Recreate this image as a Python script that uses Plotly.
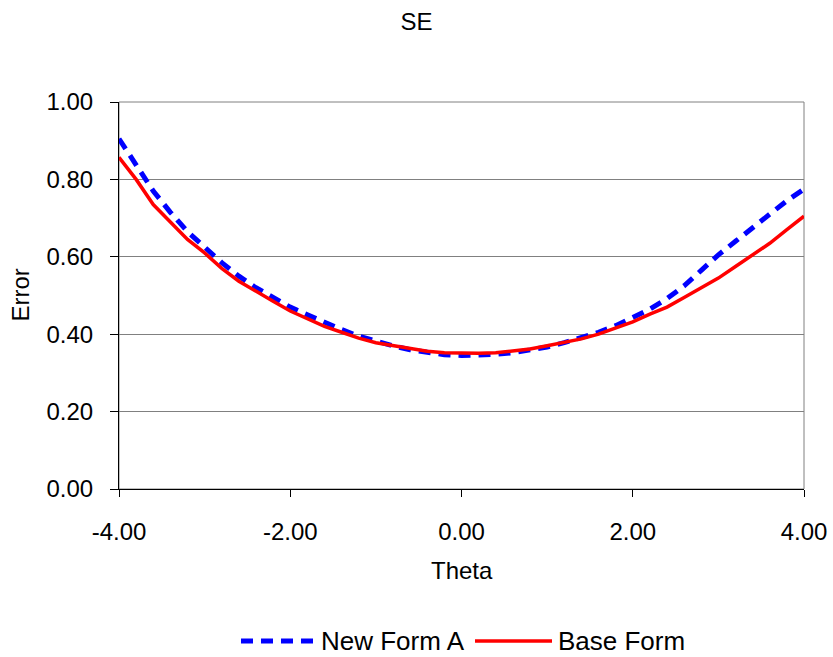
import plotly.graph_objects as go

# Theta grid and standard error curves for the two forms
theta = [-4.0, -3.8, -3.6, -3.4, -3.2, -3.0, -2.8, -2.6, -2.4, -2.2, -2.0,
         -1.8, -1.6, -1.4, -1.2, -1.0, -0.8, -0.6, -0.4, -0.2, 0.0,
         0.2, 0.4, 0.6, 0.8, 1.0, 1.2, 1.4, 1.6, 1.8, 2.0,
         2.2, 2.4, 2.6, 2.8, 3.0, 3.2, 3.4, 3.6, 3.8, 4.0]

new_form_a = [0.905, 0.840, 0.770, 0.715, 0.665, 0.625, 0.585, 0.550, 0.520, 0.495, 0.470,
              0.450, 0.430, 0.412, 0.395, 0.382, 0.370, 0.360, 0.352, 0.347, 0.345,
              0.346, 0.348, 0.352, 0.358, 0.367, 0.378, 0.390, 0.405, 0.422, 0.442,
              0.465, 0.492, 0.525, 0.565, 0.605, 0.640, 0.675, 0.710, 0.745, 0.775]

base_form = [0.857, 0.800, 0.735, 0.690, 0.645, 0.610, 0.570, 0.537, 0.510, 0.485, 0.460,
             0.440, 0.420, 0.405, 0.390, 0.378, 0.370, 0.362, 0.356, 0.352, 0.351,
             0.351, 0.352, 0.356, 0.362, 0.370, 0.378, 0.388, 0.400, 0.415, 0.432,
             0.452, 0.470, 0.495, 0.520, 0.545, 0.575, 0.605, 0.635, 0.670, 0.705]

x_ticks = [-4, -2, 0, 2, 4]
y_ticks = [0.0, 0.2, 0.4, 0.6, 0.8, 1.0]

FONT = "Liberation Sans, Arial, sans-serif"
BLUE_DASH = dict(color="#0000FF", width=5, dash="12px,8px")
RED_LINE = dict(color="#FF0000", width=3.5)

fig = go.Figure()
fig.add_trace(go.Scatter(x=theta, y=new_form_a, mode="lines", name="New Form A",
                         line=BLUE_DASH, showlegend=False))
fig.add_trace(go.Scatter(x=theta, y=base_form, mode="lines", name="Base Form",
                         line=RED_LINE, showlegend=False))

W, H = 833, 657
L, R, T, B = 119, 29, 102, 168
pw, ph = W - L - R, H - T - B


def px_x(p):
    return (p - L) / pw


def px_y(p):
    return (H - B - p) / ph


# plot-area frame (grey), axes drawn over it in black
fig.add_shape(type="rect", xref="paper", yref="paper", x0=0, x1=1, y0=0, y1=1,
              line=dict(color="#808080", width=1), layer="below")

# legend drawn below the axis title
leg_y = px_y(641)
fig.add_shape(type="line", xref="paper", yref="paper",
              x0=px_x(241), x1=px_x(316), y0=leg_y, y1=leg_y, line=BLUE_DASH)
fig.add_shape(type="line", xref="paper", yref="paper",
              x0=px_x(475), x1=px_x(552), y0=leg_y, y1=leg_y, line=RED_LINE)
fig.add_annotation(text="New Form A", xref="paper", yref="paper", x=px_x(319), y=leg_y,
                   xanchor="left", yanchor="middle", showarrow=False,
                   font=dict(size=26, color="black", family=FONT))
fig.add_annotation(text="Base Form", xref="paper", yref="paper", x=px_x(556), y=leg_y,
                   xanchor="left", yanchor="middle", showarrow=False,
                   font=dict(size=26, color="black", family=FONT))

# axis titles
fig.add_annotation(text="Theta", xref="paper", yref="paper", x=0.5, y=px_y(570),
                   xanchor="center", yanchor="middle", showarrow=False,
                   font=dict(size=24, color="black", family=FONT))
fig.add_annotation(text="Error", xref="paper", yref="paper", x=px_x(20), y=0.5,
                   xanchor="center", yanchor="middle", textangle=-90, showarrow=False,
                   font=dict(size=24, color="black", family=FONT))

fig.update_layout(
    width=W, height=H,
    margin=dict(l=L, r=R, t=T, b=B, autoexpand=False),
    paper_bgcolor="white", plot_bgcolor="white",
    font=dict(family=FONT, size=24, color="black"),
    title=dict(text="SE", x=0.5, xref="container", xanchor="center",
               y=1 - 22 / H, yref="container", yanchor="middle",
               font=dict(size=24, color="black", family=FONT)),
)

fig.update_xaxes(range=[-4, 4], tickvals=x_ticks,
                 ticktext=[f"{v:.2f}" for v in x_ticks],
                 showgrid=False, zeroline=False, automargin=False,
                 showline=True, linecolor="black", linewidth=1,
                 ticks="outside", ticklen=7, tickcolor="black",
                 ticklabelstandoff=14,
                 tickfont=dict(size=24, family=FONT, color="black"))
fig.update_yaxes(range=[0, 1], tickvals=y_ticks,
                 ticktext=[f"{v:.2f}" for v in y_ticks],
                 showgrid=True, gridcolor="#808080", gridwidth=1,
                 zeroline=False, automargin=False,
                 showline=True, linecolor="black", linewidth=1,
                 ticks="outside", ticklen=8, tickcolor="black",
                 ticklabelstandoff=12,
                 tickfont=dict(size=24, family=FONT, color="black"))

fig.write_html("out.html")
